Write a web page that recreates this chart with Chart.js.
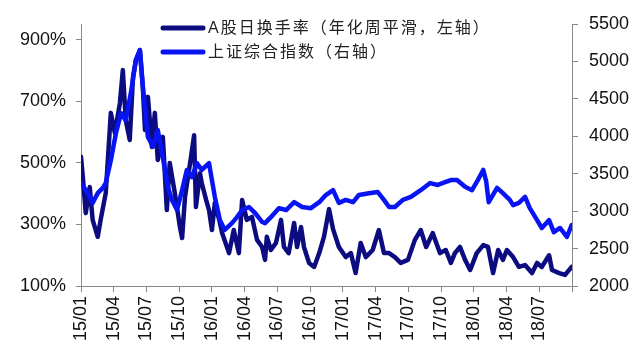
<!DOCTYPE html>
<html>
<head>
<meta charset="utf-8">
<script src="https://cdn.jsdelivr.net/npm/chart.js@4.4.1/dist/chart.umd.min.js"></script>
<style>
html, body { margin: 0; padding: 0; background: #fff; }
#wrap { width: 636px; height: 352px; }
</style>
</head>
<body>
<div id="wrap"><canvas id="chart" width="636" height="352"></canvas></div>
<script>
// A股日换手率（年化周平滑，%）-
var turnoverDates = [
  '2015-01-01','2015-01-06','2015-01-14','2015-01-25','2015-02-03','2015-02-17','2015-02-25','2015-03-09','2015-03-23',
  '2015-04-04','2015-04-18','2015-04-26','2015-05-04','2015-05-15','2015-05-24','2015-06-02','2015-06-13','2015-06-21','2015-06-27',
  '2015-07-05','2015-07-16','2015-07-24','2015-08-02','2015-08-16','2015-08-27','2015-09-05','2015-09-19',
  '2015-10-03','2015-10-09','2015-10-17','2015-10-31','2015-11-12','2015-11-17','2015-11-28','2015-12-03','2015-12-15','2015-12-23',
  '2016-01-01','2016-01-09','2016-01-21','2016-01-29','2016-02-18','2016-03-01','2016-03-15','2016-03-24','2016-04-07','2016-04-21',
  '2016-05-05','2016-05-19','2016-05-27','2016-06-02','2016-06-13','2016-06-27','2016-07-11','2016-07-19','2016-08-02','2016-08-17','2016-08-25',
  '2016-09-06','2016-09-14','2016-09-28','2016-10-12','2016-10-26','2016-11-09','2016-11-23','2016-12-04','2016-12-20',
  '2017-01-09','2017-01-23','2017-02-06','2017-02-20','2017-03-04','2017-03-23','2017-04-10','2017-04-24','2017-05-08','2017-05-24',
  '2017-06-10','2017-06-30','2017-07-19','2017-08-05','2017-08-20','2017-09-08','2017-09-28','2017-10-14','2017-10-28','2017-11-09','2017-11-23',
  '2017-12-07','2017-12-21','2018-01-09','2018-01-27','2018-02-10','2018-02-24','2018-03-08','2018-03-21','2018-04-02','2018-04-19',
  '2018-05-05','2018-05-22','2018-06-11','2018-06-25','2018-07-08','2018-07-28','2018-08-06','2018-08-26','2018-09-12','2018-09-30'
];
var turnoverValues = [
  520,455,337,422,315,260,315,402,663,
  598,695,802,640,575,780,835,867,747,607,
  715,552,663,510,585,347,500,402,
  292,256,390,500,590,357,467,435,380,347,
  282,370,315,272,207,282,207,380,315,325,
  250,227,185,260,217,240,315,227,207,305,227,
  292,227,175,162,207,260,350,285,227,
  194,207,142,240,194,217,282,207,207,194,
  175,185,250,282,227,272,207,217,175,207,227,
  185,152,207,233,227,142,217,185,217,194,
  162,168,142,175,162,200,152,142,136,162
];

// 上证综合指数
var indexDates = [
  '2015-01-01','2015-01-20','2015-02-03','2015-02-17','2015-03-01','2015-03-09','2015-03-23','2015-04-07','2015-04-21','2015-05-04',
  '2015-05-18','2015-06-02','2015-06-13','2015-06-21','2015-07-05','2015-07-19','2015-08-02','2015-08-16','2015-08-30','2015-09-11',
  '2015-09-25','2015-10-09','2015-10-22','2015-11-06','2015-11-20','2015-12-03','2015-12-23',
  '2016-01-01','2016-01-09','2016-01-23','2016-02-06','2016-02-26','2016-03-10','2016-03-24','2016-04-13','2016-04-30','2016-05-19',
  '2016-05-27','2016-06-13','2016-07-05','2016-07-25','2016-08-17','2016-09-09','2016-10-03','2016-10-26','2016-11-14','2016-12-04','2016-12-20',
  '2017-01-09','2017-01-29','2017-02-15','2017-03-13','2017-04-07','2017-04-24','2017-05-08','2017-05-24','2017-06-16','2017-07-08',
  '2017-08-05','2017-08-31','2017-09-22','2017-10-14','2017-10-28','2017-11-15','2017-12-07','2017-12-26',
  '2018-01-12','2018-01-27','2018-02-05','2018-02-12','2018-03-05','2018-03-21','2018-04-10','2018-04-19','2018-05-05','2018-05-22',
  '2018-06-05','2018-06-25','2018-07-08','2018-07-28','2018-08-11','2018-08-28','2018-09-17','2018-09-30'
];
var indexValues = [
  3375,3240,3110,3240,3310,3375,3680,4040,4310,4215,
  4575,5020,5150,4660,3990,3860,4085,3720,3320,3150,
  3015,3280,3550,3455,3640,3550,3640,
  3415,3190,2880,2750,2840,2920,3015,3055,2975,2855,
  2840,2920,3040,3015,3120,3055,3040,3120,3215,3280,3110,
  3150,3120,3215,3240,3255,3150,3055,3055,3150,3190,
  3280,3375,3350,3390,3415,3415,3325,3280,
  3415,3550,3400,3120,3310,3240,3150,3080,3110,3190,
  3040,2880,2775,2880,2720,2775,2655,2815
];

var xTickLabels = ['15/01','15/04','15/07','15/10','16/01','16/04','16/07','16/10','17/01','17/04','17/07','17/10','18/01','18/04','18/07'];
var leftTicks = [100, 300, 500, 700, 900];
var rightTicks = [2000, 2500, 3000, 3500, 4000, 4500, 5000, 5500];

// months since 2015-01
function toMonth(s) {
  var p = s.split('-');
  return (p[0] - 2015) * 12 + (p[1] - 1) + (p[2] - 1) / 30;
}
function pts(dates, vals) {
  return dates.map(function (d, i) { return { x: toMonth(d), y: vals[i] }; });
}

var FONT = '"Liberation Sans", Arial, sans-serif';

var legendPlugin = {
  id: 'boxLegend',
  afterDraw: function (chart) {
    var c = chart.ctx;
    c.save();
    chart.data.datasets.forEach(function (ds, i) {
      var y = 28 + i * 24;
      c.strokeStyle = ds.borderColor;
      c.lineWidth = 5;
      c.lineCap = 'round';
      c.beginPath();
      c.moveTo(163, y);
      c.lineTo(203, y);
      c.stroke();
      c.fillStyle = '#222';
      c.font = '16px "Liberation Sans", "Noto Sans CJK SC"';
      c.letterSpacing = '2px';
      c.textBaseline = 'middle';
      c.fillText(ds.label, 208, y + 1);
    });
    c.restore();
  }
};

var ctx = document.getElementById('chart').getContext('2d');
new Chart(ctx, {
  type: 'line',
  data: {
    datasets: [
      {
        label: 'A股日换手率（年化周平滑，左轴）',
        data: pts(turnoverDates, turnoverValues),
        yAxisID: 'yL',
        borderColor: '#0c0c80',
        borderWidth: 4.5,
        pointRadius: 0,
        tension: 0,
        borderJoinStyle: 'round',
        borderCapStyle: 'round',
        order: 1
      },
      {
        label: '上证综合指数（右轴）',
        data: pts(indexDates, indexValues),
        yAxisID: 'yR',
        borderColor: '#0814f4',
        borderWidth: 4.5,
        pointRadius: 0,
        tension: 0,
        borderJoinStyle: 'round',
        borderCapStyle: 'round',
        order: 0
      }
    ]
  },
  options: {
    responsive: false,
    animation: false,
    layout: { padding: { top: 24, left: 0, right: 0, bottom: 0 } },
    plugins: { legend: { display: false }, tooltip: { enabled: false } },
    scales: {
      x: {
        type: 'linear',
        min: 0,
        max: 45,
        afterBuildTicks: function (s) {
          s.ticks = xTickLabels.map(function (l, i) { return { value: i * 3 }; });
          s.ticks.push({ value: 45 });
        },
        afterFit: function (s) { s.height = 66; },
        ticks: {
          autoSkip: false,
          minRotation: 90,
          maxRotation: 90,
          padding: 4,
          color: '#111',
          font: { family: FONT, size: 18 },
          callback: function (v) { return xTickLabels[Math.round(v / 3)] || ''; }
        },
        grid: { drawOnChartArea: false, tickLength: 6, color: '#888' },
        border: { color: '#888', width: 1 }
      },
      yL: {
        position: 'left',
        min: 100,
        max: 952,
        afterBuildTicks: function (s) { s.ticks = leftTicks.map(function (v) { return { value: v }; }); },
        afterFit: function (s) { s.width = 81; },
        ticks: {
          padding: 10,
          color: '#111',
          font: { family: FONT, size: 18 },
          callback: function (v) { return v + '%'; }
        },
        grid: { drawOnChartArea: false, tickLength: 5, color: '#888' },
        border: { color: '#888', width: 1 }
      },
      yR: {
        position: 'right',
        min: 2000,
        max: 5500,
        afterBuildTicks: function (s) { s.ticks = rightTicks.map(function (v) { return { value: v }; }); },
        afterFit: function (s) { s.width = 64; },
        ticks: {
          padding: 11,
          color: '#111',
          font: { family: FONT, size: 18 },
          callback: function (v) { return String(v); }
        },
        grid: { drawOnChartArea: false, tickLength: 6, color: '#888' },
        border: { color: '#888', width: 1 }
      }
    }
  },
  plugins: [legendPlugin]
});
</script>
</body>
</html>
